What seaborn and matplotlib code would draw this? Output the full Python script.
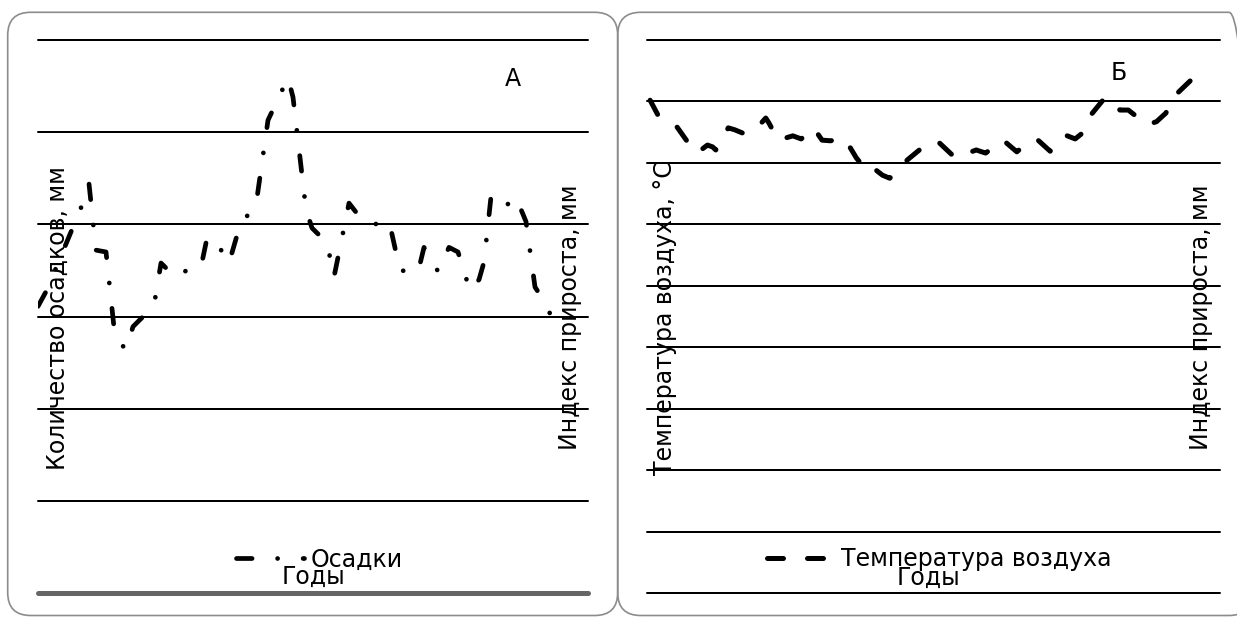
import numpy as np
import pandas as pd
import seaborn as sns
import matplotlib.pyplot as plt
from matplotlib.patches import FancyBboxPatch

# Панель А: количество осадков, мм
god_A = [1960.0, 1960.9, 1964.3, 1965.1, 1965.8, 1966.8, 1967.7, 1968.8, 1969.5, 1970.7,
         1971.6, 1972.3, 1973.6, 1974.5, 1975.3, 1976.4, 1976.9, 1977.5, 1978.2, 1979.1,
         1980.3, 1981.0, 1981.8, 1983.0, 1984.0, 1985.0, 1985.5, 1986.8, 1987.4, 1988.9,
         1989.6, 1990.3, 1991.1, 1992.1, 1993.6, 1994.4, 1995.2, 1996.2, 1998.0, 1998.6,
         2000.0, 2001.1, 2002.0, 2003.2, 2004.1, 2004.6, 2005.3, 2006.0, 2006.8, 2007.5,
         2008.0, 2008.8, 2009.7, 2010.7, 2011.5]
osadki = [311, 329, 418, 444, 372, 370, 278, 264, 289, 302,
          312, 358, 344, 345, 359, 359, 385, 385, 374, 358,
          403, 410, 421, 513, 536, 559, 538, 416, 396, 380,
          343, 380, 423, 409, 399, 405, 399, 350, 348, 375,
          349, 375, 370, 328, 340, 359, 430, 420, 419, 430,
          424, 403, 332, 315, 296]

# Панель Б: температура воздуха, °C
god_B = [1960.3, 1961.2, 1962.9, 1963.9, 1964.8, 1965.8, 1966.3, 1966.6, 1967.8, 1968.4,
         1969.4, 1970.6, 1971.4, 1971.7, 1972.6, 1974.0, 1974.8, 1976.0, 1976.8, 1977.6,
         1979.0, 1980.1, 1981.1, 1981.7, 1982.6, 1983.3, 1985.0, 1986.5, 1987.4, 1988.1,
         1989.6, 1990.8, 1991.6, 1992.5, 1994.2, 1994.6, 1995.5, 1996.6, 1997.4, 1998.7,
         1999.8, 2000.2, 2001.1, 2001.9, 2002.7, 2004.0, 2005.4, 2006.2, 2008.0, 2008.9,
         2009.8, 2010.7, 2012.6, 2013.7]
temp = [3.02, 2.73, 2.58, 2.34, 2.16, 2.29, 2.26, 2.21, 2.57, 2.54,
        2.47, 2.58, 2.73, 2.65, 2.37, 2.44, 2.39, 2.57, 2.37, 2.36,
        2.39, 2.08, 1.87, 1.92, 1.80, 1.75, 2.05, 2.26, 2.36, 2.32,
        2.08, 2.16, 2.21, 2.16, 2.37, 2.31, 2.18, 2.34, 2.39, 2.19,
        2.42, 2.45, 2.39, 2.50, 2.80, 3.07, 2.86, 2.86, 2.62, 2.67,
        2.81, 3.10, 3.41, 3.30]

df_A = pd.DataFrame({"Годы": god_A, "Осадки": osadki})
df_B = pd.DataFrame({"Годы": god_B, "Температура воздуха": temp})

sns.set_style("white")
plt.rcParams['font.family'] = ['DejaVu Sans']
plt.rcParams['text.color'] = 'black'
FS = 17

W, H = 1237, 617
fig = plt.figure(figsize=(W / 100, H / 100), dpi=100)

# рамки панелей со скруглёнными углами (в пикселях)
for x0, x1 in [(7.7, 617.7), (617.7, 1252)]:
    box = FancyBboxPatch((x0 / 100, 1.5 / 100), (x1 - x0) / 100, (604.7 - 1.5) / 100,
                         boxstyle="round,pad=0,rounding_size=0.23",
                         transform=fig.dpi_scale_trans, fc='none', ec='#8c8c8c',
                         lw=1.2, zorder=-1)
    fig.patches.append(box)

ax1 = fig.add_axes([38 / W, (H - 593) / H, 550 / W, 553 / H])
ax2 = fig.add_axes([647 / W, (H - 593) / H, 573 / W, 553 / H])

sns.lineplot(data=df_A, x="Годы", y="Осадки", ax=ax1, sort=False, estimator=None,
             color='black', linewidth=3.4, linestyle=(0, (3.3, 5.4, 0.01, 5.4)),
             dash_capstyle='round', dash_joinstyle='round')
sns.lineplot(data=df_B, x="Годы", y="Температура воздуха", ax=ax2, sort=False, estimator=None,
             color='black', linewidth=3.6, linestyle=(0, (3.2, 4.8)),
             dash_capstyle='round', dash_joinstyle='round')

ax1.set_xlim(1960, 2015)
ax1.set_ylim(0, 600)
ax1.set_yticks(np.arange(0, 601, 100))
ax2.set_xlim(1960, 2015)
ax2.set_ylim(-5, 4)
ax2.set_yticks(np.arange(-5, 5, 1))

for ax in (ax1, ax2):
    ax.patch.set_alpha(0)
    for s in ax.spines.values():
        s.set_visible(False)
    ax.grid(axis='y', color='black', linewidth=1.44)
    ax.grid(axis='x', visible=False)
    for gl in ax.get_ygridlines():
        gl.set_clip_on(False)
    ax.tick_params(left=False, bottom=False, labelleft=False, labelbottom=False)
    ax.set_xlabel("")
    ax.set_ylabel("")

# серая линия по низу левой панели
ax1.axhline(0, color='#666666', linewidth=3.6, clip_on=False, zorder=3)

# легенды
h1 = ax1.lines[0]
ax1.legend([h1], ["Осадки"], loc='center', bbox_to_anchor=(0.512, 0.0606), frameon=False,
           handlelength=2.85, handletextpad=0.3, borderpad=0, borderaxespad=0, fontsize=FS)
h2 = ax2.lines[0]
ax2.legend([h2], ["Температура воздуха"], loc='center', bbox_to_anchor=(0.51, 0.0606),
           frameon=False, handlelength=2.67, handletextpad=0.5, borderpad=0,
           borderaxespad=0, fontsize=FS)

# подписи осей
ax1.text(0.0364, 0.498, "Количество осадков, мм", transform=ax1.transAxes, rotation=90,
         ha='center', va='center', fontsize=FS)
ax1.text(0.967, 0.499, "Индекс прироста, мм", transform=ax1.transAxes, rotation=90,
         ha='center', va='center', fontsize=FS)
ax1.text(0.5, 0.0163, "Годы", transform=ax1.transAxes, ha='center', va='baseline', fontsize=FS)
ax1.text(0.8636, 0.9295, "А", transform=ax1.transAxes, ha='center', va='center', fontsize=FS)

ax2.text(0.0314, 0.497, "Температура воздуха, °С", transform=ax2.transAxes, rotation=90,
         ha='center', va='center', fontsize=FS)
ax2.text(0.9668, 0.499, "Индекс прироста, мм", transform=ax2.transAxes, rotation=90,
         ha='center', va='center', fontsize=FS)
ax2.text(0.491, 0.0145, "Годы", transform=ax2.transAxes, ha='center', va='baseline', fontsize=FS)
ax2.text(0.8237, 0.9412, "Б", transform=ax2.transAxes, ha='center', va='center', fontsize=FS)

fig.savefig("out.png", dpi=100)
